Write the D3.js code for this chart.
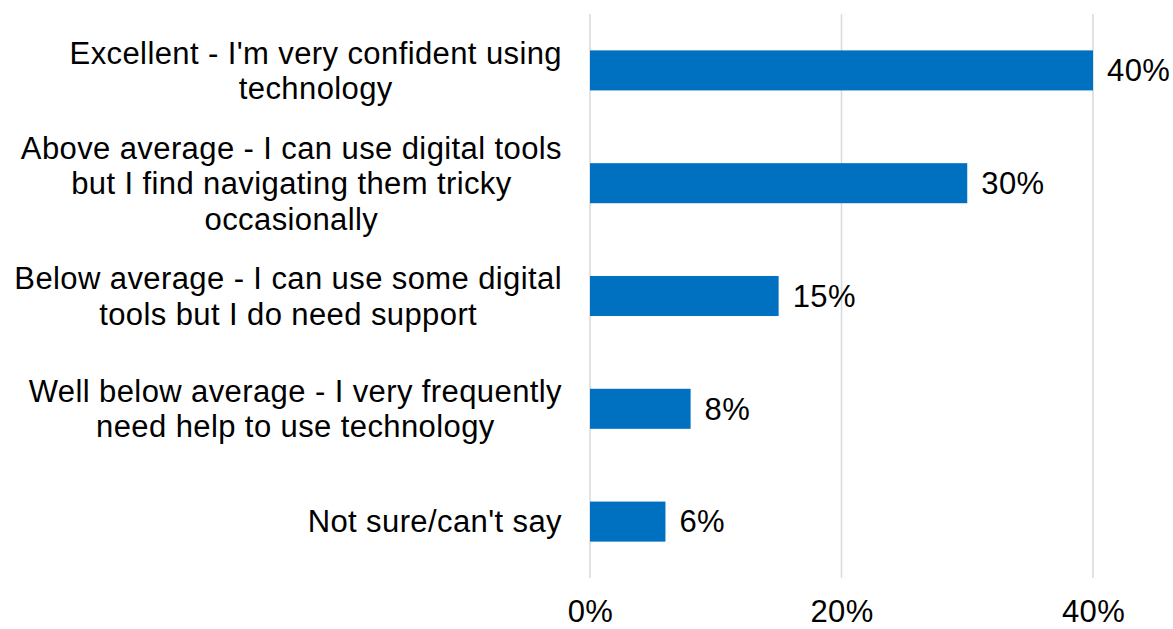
<!DOCTYPE html>
<html>
<head>
<meta charset="utf-8">
<script src="https://cdn.jsdelivr.net/npm/d3@7"></script>
<style>
  html, body { margin: 0; padding: 0; background: #fff; }
  svg { display: block; }
  text { font-family: "Liberation Sans", Arial, sans-serif; fill: #000; letter-spacing: 0.4px; }
</style>
</head>
<body>
<svg id="chart" width="1173" height="629"></svg>
<script>
// Self-rated digital confidence (share of respondents)
const categories = [
  "Excellent - I'm very confident using\ntechnology",
  "Above average - I can use digital tools\nbut I find navigating them tricky\noccasionally",
  "Below average - I can use some digital\ntools but I do need support",
  "Well below average - I very frequently\nneed help to use technology",
  "Not sure/can't say"
];
const values = [40, 30, 15, 8, 6];
const tickValues = [0, 20, 40];

const svg = d3.select("#chart");
const margin = { top: 14, right: 80, bottom: 51, left: 590 };
const height = 629 - margin.top - margin.bottom;
const fontSize = 31;
const lineHeight = 35.5;
const labelRight = -28;

const x = d3.scaleLinear().domain([0, 40]).range([0, 1093 - margin.left]);
const y = d3.scaleBand().domain(categories).range([0, height]).paddingInner(0.645).paddingOuter(0.3225);

const g = svg.append("g").attr("transform", `translate(${margin.left},${margin.top})`);

// Vertical gridlines
g.append("g")
  .selectAll("line")
  .data(tickValues)
  .join("line")
  .attr("x1", d => x(d)).attr("x2", d => x(d))
  .attr("y1", 0).attr("y2", height)
  .attr("stroke", "#d9d9d9")
  .attr("stroke-width", 1.5);

// X axis tick labels
const xAxis = d3.axisBottom(x).tickValues(tickValues).tickFormat(d => d + "%").tickSize(0).tickPadding(0);
const ax = g.append("g").attr("transform", `translate(0,${height})`).call(xAxis);
ax.select(".domain").remove();
ax.selectAll("text")
  .attr("dy", null)
  .attr("y", 44)
  .style("font-size", fontSize + "px")
  .style("font-family", '"Liberation Sans", Arial, sans-serif')
  .attr("fill", "#000");

// Bars
g.append("g")
  .selectAll("rect")
  .data(categories)
  .join("rect")
  .attr("x", x(0))
  .attr("y", d => y(d))
  .attr("width", (d, i) => x(values[i]) - x(0))
  .attr("height", y.bandwidth())
  .attr("fill", "#0070C0");

// Value labels
g.append("g")
  .selectAll("text")
  .data(categories)
  .join("text")
  .attr("x", (d, i) => x(values[i]) + 14)
  .attr("y", d => y(d) + y.bandwidth() / 2)
  .attr("dy", "0.35em")
  .style("font-size", fontSize + "px")
  .text((d, i) => values[i] + "%");

// Category labels: lines centred on each other, block right-aligned beside the axis
const labels = g.append("g")
  .selectAll("text")
  .data(categories)
  .join("text")
  .attr("text-anchor", "middle")
  .style("font-size", fontSize + "px");

labels.each(function(d) {
  const lines = d.split("\n");
  const offset = -(lines.length - 1) / 2 * lineHeight;
  const t = d3.select(this);
  const spans = t.selectAll("tspan")
    .data(lines)
    .join("tspan")
    .attr("x", 0)
    .attr("y", (l, i) => offset + i * lineHeight)
    .attr("dy", "0.35em")
    .text(l => l);
  const maxW = d3.max(spans.nodes(), n => n.getComputedTextLength());
  t.attr("transform", `translate(${labelRight - maxW / 2},${y(d) + y.bandwidth() / 2})`);
});
</script>
</body>
</html>
